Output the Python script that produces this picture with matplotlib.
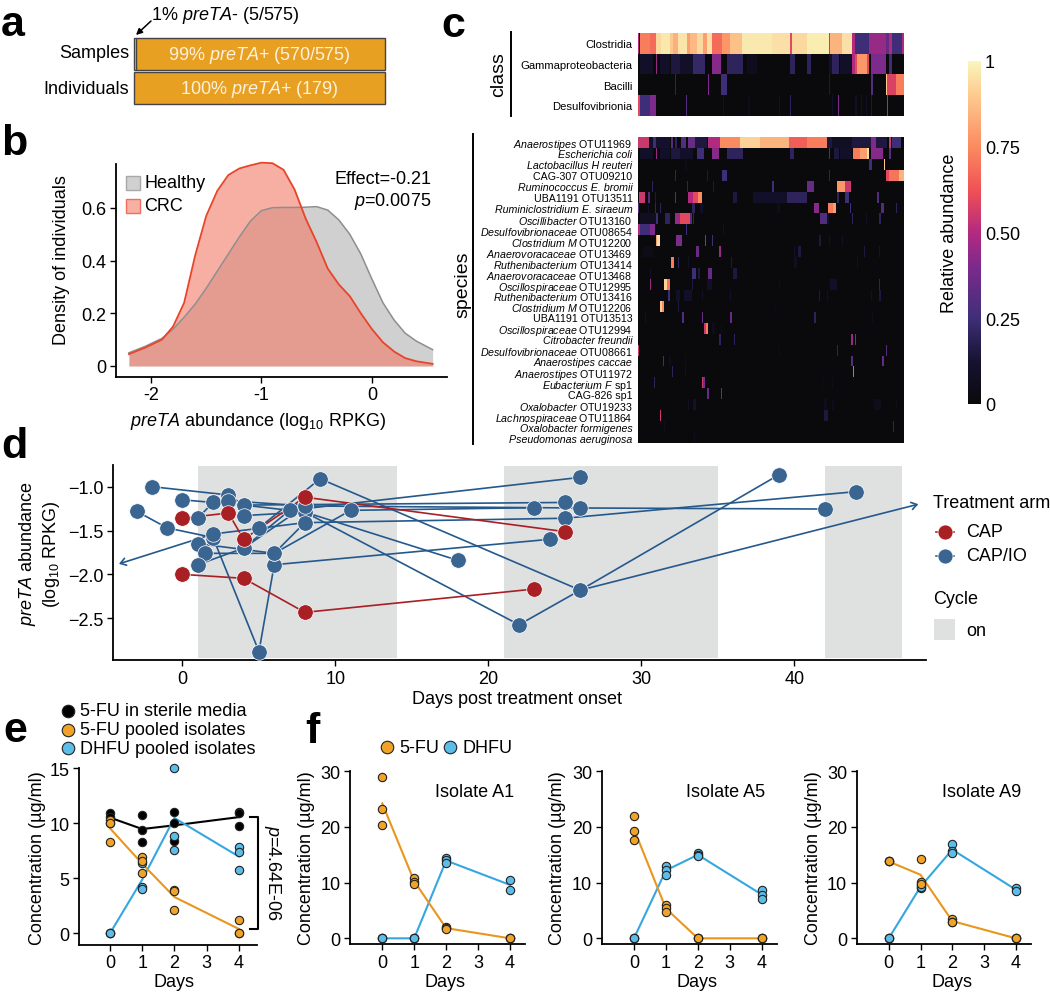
import numpy as np
import matplotlib
matplotlib.use("Agg")
import matplotlib.pyplot as plt
from matplotlib.colors import LinearSegmentedColormap
from matplotlib.lines import Line2D
from matplotlib.patches import Rectangle, FancyArrowPatch

plt.rcParams['font.family'] = ['Liberation Sans', 'DejaVu Sans']
plt.rcParams['mathtext.fontset'] = 'custom'
plt.rcParams['mathtext.rm'] = 'Liberation Sans'
plt.rcParams['mathtext.it'] = 'Liberation Sans:italic'
plt.rcParams['mathtext.bf'] = 'Liberation Sans:bold'
plt.rcParams['font.size'] = 13

# panel a
sample_neg, sample_pos = 5, 570
indiv_pos = 179

# panel b
kde_x = [-2.2, -2.05, -1.9, -1.8, -1.7, -1.6, -1.5, -1.4, -1.3, -1.2, -1.1, -1.0, -0.9, -0.8,
         -0.7, -0.6, -0.5, -0.4, -0.3, -0.2, -0.1, 0, 0.1, 0.2, 0.3, 0.4, 0.55]
healthy = [.05, .075, .105, .14, .185, .235, .295, .36, .425, .49, .55, .59, .601, .602,
           .602, .603, .605, .592, .555, .50, .425, .33, .24, .175, .125, .095, .062]
crc = [.045, .07, .10, .15, .24, .42, .57, .665, .725, .75, .762, .772, .77, .745,
       .67, .56, .47, .37, .31, .265, .20, .14, .09, .055, .03, .018, .008]

# panel c, (from, to, value) runs along the samples of each row
n_samples = 795
class_names = ['Clostridia', 'Gammaproteobacteria', 'Bacilli', 'Desulfovibrionia']
class_runs = [
    [(0, 4, .5), (5, 35, .72), (35, 55, .68), (55, 70, .93), (70, 95, .97), (95, 105, .9), (105, 120, .84),
     (120, 145, .96), (145, 155, .8), (155, 175, .86), (175, 195, .93), (195, 205, .8), (205, 220, .95),
     (220, 250, .68), (250, 275, .78), (275, 310, .88), (310, 400, .97), (400, 455, .95), (455, 460, .6),
     (460, 505, .93), (505, 570, .98), (570, 575, .55), (575, 610, .85), (610, 640, .95), (640, 650, .5),
     (650, 690, .25), (690, 740, .45), (740, 750, .35), (750, 760, .5), (760, 790, .25), (790, 795, .5)],
    [(5, 45, .1), (53, 57, .45), (65, 95, .1), (100, 125, .15), (125, 165, .1), (165, 200, .22), (220, 248, .42),
     (265, 315, .2), (325, 355, .06), (455, 470, .2), (505, 517, .2), (570, 580, .1), (580, 600, .2), (605, 640, .1),
     (640, 650, .5), (650, 655, .6), (655, 685, .78), (685, 690, .6), (695, 740, .4), (750, 760, .25)],
    [(110, 115, .2), (210, 213, .4), (247, 267, .25), (570, 575, .15), (695, 703, .3), (740, 745, .9),
     (745, 770, .58), (770, 795, .72)],
    [(0, 5, .6), (5, 35, .25), (35, 53, .4), (143, 146, .3), (255, 257, .1), (330, 335, .05), (420, 425, .1),
     (455, 458, .2), (580, 583, .1), (597, 601, .4), (650, 655, .1), (665, 669, .1), (680, 685, .1), (695, 699, .15),
     (743, 747, .5)],
]
species_names = [
    r'$\mathit{Anaerostipes}$ OTU11969', 'Escherichia coli',
    'Lactobacillus H reuteri', 'CAG-307 OTU09210',
    'Ruminococcus E. bromii', 'UBA1191 OTU13511',
    'Ruminiclostridium E. siraeum', r'$\mathit{Oscillibacter}$ OTU13160',
    r'$\mathit{Desulfovibrionaceae}$ OTU08654', r'$\mathit{Clostridium\ M}$ OTU12200',
    r'$\mathit{Anaerovoracaceae}$ OTU13469', r'$\mathit{Ruthenibacterium}$ OTU13414',
    r'$\mathit{Anaerovoracaceae}$ OTU13468', r'$\mathit{Oscillospiraceae}$ OTU12995',
    r'$\mathit{Ruthenibacterium}$ OTU13416', r'$\mathit{Clostridium\ M}$ OTU12206',
    'UBA1191 OTU13513', r'$\mathit{Oscillospiraceae}$ OTU12994',
    'Citrobacter freundii', r'$\mathit{Desulfovibrionaceae}$ OTU08661',
    'Anaerostipes caccae', r'$\mathit{Anaerostipes}$ OTU11972',
    r'$\mathit{Eubacterium\ F}$ sp1', 'CAG-826 sp1',
    r'$\mathit{Oxalobacter}$ OTU19233', r'$\mathit{Lachnospiraceae}$ OTU11864',
    'Oxalobacter formigenes', 'Pseudomonas aeruginosa',
]
plain_names = ['CAG-307 OTU09210', 'UBA1191 OTU13511', 'UBA1191 OTU13513', 'CAG-826 sp1']
species_runs = [
    [(0, 33, .55), (33, 45, .1), (45, 55, .25), (55, 95, .12), (100, 105, .3), (110, 117, .2), (130, 143, .3),
     (150, 170, .35), (170, 205, .15), (210, 245, .5), (245, 305, .75), (305, 365, .92), (365, 450, .85),
     (450, 505, .65), (505, 565, .72), (565, 580, .15), (580, 640, .08), (640, 695, .15), (695, 710, .4),
     (710, 745, .15), (750, 757, .55), (760, 785, .25)],
    [(5, 45, .1), (53, 57, .45), (65, 95, .1), (100, 125, .15), (125, 165, .1), (175, 198, .25), (220, 243, .42),
     (265, 313, .2), (455, 467, .2), (570, 573, .3), (585, 600, .15), (605, 640, .1), (643, 663, .72), (663, 685, .8),
     (685, 690, .95), (695, 733, .42), (750, 755, .3)],
    [(140, 145, .05), (690, 700, .25), (735, 739, .9)],
    [(110, 113, .2), (205, 208, .15), (250, 265, .25), (570, 573, .2), (740, 750, .6), (750, 780, .7), (780, 795, .85)],
    [(43, 46, .2), (145, 150, .2), (225, 228, .15), (400, 405, .25), (505, 525, .35), (595, 620, .78), (620, 637, .55)],
    [(2, 20, .55), (30, 37, .3), (50, 55, .15), (110, 113, .3), (150, 165, .5), (165, 180, .6), (180, 190, .75),
     (285, 295, .15), (345, 445, .1), (445, 505, .2), (595, 600, .2), (620, 630, .25), (715, 720, .3)],
    [(0, 3, .3), (30, 33, .1), (50, 53, .2), (65, 68, .2), (160, 170, .2), (185, 195, .1), (415, 425, .05),
     (527, 540, .42), (567, 583, .72), (583, 593, .8), (633, 637, .25), (725, 735, .3), (770, 773, .2)],
    [(5, 55, .07), (55, 61, .25), (80, 95, .2), (110, 127, .45), (127, 155, .6), (155, 160, .3), (165, 168, .2),
     (545, 565, .3), (565, 570, .1), (640, 643, .2), (680, 685, .1), (720, 727, .2)],
    [(0, 5, .5), (5, 35, .25), (35, 52, .4), (143, 146, .25), (255, 258, .1)],
    [(53, 57, .8), (57, 65, .95), (115, 132, .4), (200, 204, .45), (220, 225, .25), (540, 547, .15), (570, 573, .1),
     (610, 613, .1)],
    [(15, 45, .04), (173, 181, .35), (243, 247, .45), (465, 470, .12), (477, 487, .15), (675, 678, .15), (720, 723, .12)],
    [(98, 108, .72), (120, 123, .2), (150, 153, .1), (278, 282, .15), (465, 475, .07), (655, 659, .1)],
    [(35, 40, .08), (160, 173, .25), (180, 185, .15), (210, 220, .35), (283, 295, .15)],
    [(35, 39, .45), (79, 87, .92), (87, 97, .7), (160, 165, .15), (205, 221, .1), (420, 423, .05), (575, 595, .1),
     (720, 723, .2)],
    [(90, 97, .25), (115, 125, .1), (137, 160, .1), (190, 195, .08), (275, 278, .1), (540, 545, .15), (565, 569, .1),
     (695, 698, .08), (720, 727, .15)],
    [(67, 73, .9), (73, 79, .75), (120, 123, .15), (405, 408, .04)],
    [(20, 25, .08), (132, 136, .3), (190, 194, .35), (275, 280, .35), (527, 531, .2), (700, 703, .05)],
    [(197, 203, .55), (203, 208, .72), (220, 230, .05), (247, 251, .06)],
    [(243, 247, .2), (288, 291, .2), (637, 642, .45), (648, 651, .4)],
    [(0, 3, .55), (420, 423, .05), (595, 598, .2), (740, 745, .3)],
    [(75, 79, .25), (93, 100, .05), (140, 143, .05), (638, 643, .3), (730, 735, .35)],
    [(102, 105, .2), (140, 143, .1), (642, 647, .65)],
    [(48, 52, .2), (190, 195, .55), (195, 200, .4), (550, 555, .03), (580, 583, .05)],
    [(207, 211, .35), (247, 252, .35)],
    [(150, 153, .08), (163, 173, .12), (555, 565, .05), (580, 587, .06), (705, 725, .05), (770, 773, .05)],
    [(65, 70, .55), (557, 567, .15)],
    [(78, 81, .05), (761, 766, .2)],
    [(35, 38, .03), (167, 171, .05)],
]

# panel d, one list per patient: days and abundance
cycle_on = [1, 21, 42]
cycle_off = [14, 35, 47]
io_days = [
    [-2, 3, 4, 25], [0, 4, 8, 18], [-3, -1, 2, 5, 6, 24], [2, 8, 25, 44], [1, 2, 3, 8, 26, 42],
    [5, 9, 26], [4, 8, 22, 26, 39], [4, 7, 26], [1, 6, 8], [1.5, 6, 11, 23], [1, 4, 8],
]
io_abund = [
    [-1.0, -1.095, -1.21, -1.18], [-1.15, -1.21, -1.29, -1.84], [-1.28, -1.47, -1.58, -2.88, -1.89, -1.60],
    [-1.54, -1.41, -1.36, -1.057], [-1.36, -1.18, -1.16, -1.22, -1.243, -1.255],
    [-1.47, -.91, -2.18], [-1.33, -1.29, -2.574, -2.18, -.863], [-1.7, -1.27, -.894],
    [-1.65, -1.76, -1.41], [-1.76, -1.76, -1.27, -1.24], [-1.89, -1.7, -1.22],
]
cap_days = [[0, 3, 4, 8, 25], [0, 4, 8, 23]]
cap_abund = [[-1.36, -1.30, -1.60, -1.12, -1.513], [-2.0, -2.045, -2.433, -2.167]]

# panel e, replicates per day
days = [0, 1, 2, 4]
sterile = [[10.9, 10.6, 10.0], [10.7, 9.42, 8.27], [11.0, 10.0, 8.4], [11.0, 10.9, 9.73]]
pooled_fu = [[10.3, 10.0, 8.3], [6.9, 6.55, 5.5], [3.97, 3.8, 2.12], [1.2, 0, 0]]
pooled_dhfu = [[0, 0, 0], [4.18, 4.03, 6.4], [15, 8.8, 7.6], [7.8, 7.36, 5.75]]

# panel f
isolate_names = ['Isolate A1', 'Isolate A5', 'Isolate A9']
isolate_fu = [
    [[29, 23.3, 20.4], [10.9, 10.2, 9.7], [2.0, 1.8, 1.7], [0, 0, 0]],
    [[22, 19.2, 17.7], [6, 5.4, 4.7], [0, 0, 0], [0, 0, 0]],
    [[13.8, 13.8, 13.8], [14.25, 10.2, 9.8], [3.5, 2.9, 2.9], [0, 0, 0]],
]
isolate_dhfu = [
    [[0, 0, 0], [0, 0, 0], [14.4, 14, 13.5], [10.5, 8.7]],
    [[0, 0, 0], [13, 12.2, 11.4], [15.3, 15, 14.7], [8.7, 7.8, 7.1]],
    [[0, 0, 0], [9.6, 9.0, 9.2], [16.9, 15.6, 15.3], [9, 8.5]],
]

W, H = 1050, 995
BLUE, BLUE_L, RED = '#3b6591', '#25598c', '#a81f24'
ORANGE, LBLUE = '#f0a327', '#5cbde8'
ORANGE_L, LBLUE_L = '#e8961e', '#35a7e0'
CONC = 'Concentration (µg/ml)'

fig = plt.figure(figsize=(W / 100, H / 100), dpi=100)


def box(left, top, right, bottom):
    return fig.add_axes([left / W, 1 - bottom / H, (right - left) / W, (bottom - top) / H])


def put(x, y, s, **kw):
    kw.setdefault('va', 'center')
    return fig.text(x / W, 1 - y / H, s, **kw)


def dot(x, y, color, size=12.5):
    fig.add_artist(Line2D([x / W], [1 - y / H], marker='o', color=color, markersize=size * 0.72,
                          markeredgecolor='#222222', markeredgewidth=0.8, transform=fig.transFigure))


def style(ax):
    ax.spines['top'].set_visible(False)
    ax.spines['right'].set_visible(False)
    ax.spines['left'].set_linewidth(1.3)
    ax.spines['bottom'].set_linewidth(1.3)
    ax.tick_params(length=4, width=1, pad=3, labelsize=13)


def labels(ax, xlabel, xpos, ylabel, ypos):
    ax.set_xlabel(xlabel, va='center')
    ax.xaxis.set_label_coords(xpos[0] / W, 1 - xpos[1] / H, transform=fig.transFigure)
    ax.set_ylabel(ylabel, va='center')
    ax.yaxis.set_label_coords(ypos[0] / W, 1 - ypos[1] / H, transform=fig.transFigure)


for letter, x, y in [('a', 1, 36), ('b', 1, 155), ('c', 441, 37), ('d', 1, 458), ('e', 3, 742), ('f', 305, 743)]:
    put(x, y, letter, fontsize=31, fontweight='bold', va='baseline')

# a
ax = box(134, 38, 385.3, 106)
ax.barh(1, sample_neg, height=0.93, color='white', edgecolor='#444444', linewidth=1, clip_on=False)
ax.barh(1, sample_pos, left=sample_neg, height=0.93, color='#e8a023', edgecolor='#444444', linewidth=1, clip_on=False)
ax.barh(0, sample_neg + sample_pos, height=0.93, color='#e8a023', edgecolor='#444444', linewidth=1, clip_on=False)
ax.set_xlim(0, sample_neg + sample_pos)
ax.set_ylim(-0.5, 1.5)
ax.axis('off')
ax.text(0.5, 0.745, r'99% $\mathit{preTA}$+ (570/575)', transform=ax.transAxes, ha='center', va='center', color='#fdf1dc')
ax.text(0.5, 0.25, r'100% $\mathit{preTA}$+ (' + str(indiv_pos) + ')', transform=ax.transAxes, ha='center', va='center', color='#fdf1dc')
put(129, 54, 'Samples', ha='right')
put(129, 89, 'Individuals', ha='right')
put(151, 15, r'1% $\mathit{preTA}$- (5/575)')
fig.add_artist(FancyArrowPatch((151 / W, 1 - 22 / H), (136 / W, 1 - 36 / H), transform=fig.transFigure,
                               arrowstyle='-|>', mutation_scale=9, color='black', lw=1.1, shrinkA=0, shrinkB=0))

# b
ax = box(116, 165, 447, 377.5)
style(ax)
ax.fill_between(kde_x, healthy, color='#bdbdbd', alpha=0.7, linewidth=0, clip_on=False)
ax.plot(kde_x, healthy, color='#8e8e8e', lw=1.1, clip_on=False)
ax.fill_between(kde_x, crc, color='#f37a67', alpha=0.6, linewidth=0, clip_on=False)
ax.plot(kde_x, crc, color='#e8442a', lw=1.3, clip_on=False)
ax.set_xlim(-2.317, 0.68)
ax.set_ylim(-0.04, 0.767)
ax.set_xticks([-2, -1, 0], labels=['-2', '-1', '0'])
ax.set_yticks([0, 0.2, 0.4, 0.6], labels=['0', '0.2', '0.4', '0.6'])
labels(ax, r'$\mathit{preTA}$ abundance (log$_{10}$ RPKG)', (258, 421), 'Density of individuals', (62, 260))
fig.add_artist(Rectangle((126 / W, 1 - 191 / H), 14 / W, 14 / H, transform=fig.transFigure, facecolor='#d0d0d0', edgecolor='#a8a8a8', lw=1))
fig.add_artist(Rectangle((126 / W, 1 - 214 / H), 14 / W, 14 / H, transform=fig.transFigure, facecolor='#f8afa4', edgecolor='#ef6f5e', lw=1))
put(144, 183, 'Healthy')
put(144, 207, 'CRC')
put(431, 180, 'Effect=-0.21', ha='right')
put(431, 202, r'$\mathit{p}$=0.0075', ha='right')

# c
heat_cmap = LinearSegmentedColormap.from_list('heat', [
    (0, '#0a0a0c'), (.12, '#15122f'), (.25, '#3e2f78'), (.4, '#7c2a8c'), (.5, '#b22a80'),
    (.62, '#ef4f55'), (.75, '#fb8a60'), (.9, '#fdc98f'), (1, '#f9f6bb')])


def heat_matrix(runs):
    m = np.zeros((len(runs), n_samples))
    for i, row in enumerate(runs):
        for a, b, v in row:
            m[i, a:b] = v
    return m


ax = box(638, 34, 903.7, 116.7)
im = ax.imshow(heat_matrix(class_runs), aspect='auto', cmap=heat_cmap, vmin=0, vmax=1, interpolation='nearest')
ax.set_xticks([])
ax.set_yticks(range(len(class_names)), labels=class_names, fontsize=8.1)
ax.tick_params(length=0, pad=4)
for s in ax.spines.values():
    s.set_visible(False)

ax = box(638, 138, 903.7, 444)
ax.imshow(heat_matrix(species_runs), aspect='auto', cmap=heat_cmap, vmin=0, vmax=1, interpolation='nearest')
ax.set_xticks([])
ax.set_yticks(range(len(species_names)), labels=species_names, fontsize=7.7)
for t, name in zip(ax.get_yticklabels(), species_names):
    t.set_va('center_baseline')
    if '$' not in name and name not in plain_names:
        t.set_fontstyle('italic')
ax.tick_params(length=0, pad=4)
for s in ax.spines.values():
    s.set_visible(False)

fig.add_artist(Line2D([511 / W] * 2, [1 - 33 / H, 1 - 117 / H], color='black', lw=1.4))
fig.add_artist(Line2D([472.7 / W] * 2, [1 - 135 / H, 1 - 445 / H], color='black', lw=1.4))
put(499, 75, 'class', rotation=90, ha='center', fontsize=14)
put(463, 285, 'species', rotation=90, ha='center', fontsize=14)

cax = box(967.7, 62, 980.7, 405)
cb = fig.colorbar(im, cax=cax, ticks=[0, .25, .5, .75, 1])
cb.ax.set_yticklabels(['0', '0.25', '0.50', '0.75', '1'])
cb.ax.tick_params(length=0, pad=3, labelsize=13)
cb.outline.set_visible(False)
cb.ax.yaxis.set_label_position('left')
cb.set_label('Relative abundance', fontsize=13, va='center')
cb.ax.yaxis.set_label_coords(949 / W, 1 - 233 / H, transform=fig.transFigure)

# d
ax = box(113.3, 466, 926, 661)
style(ax)
for a, b in zip(cycle_on, cycle_off):
    ax.axvspan(a, b, ymin=0.01, ymax=0.995, color='#dfe0e0', lw=0, zorder=0)
for d, v in zip(io_days, io_abund):
    ax.plot(d, v, color=BLUE_L, lw=1.2, zorder=2)
for d, v in zip(cap_days, cap_abund):
    ax.plot(d, v, color=RED, lw=1.2, zorder=2.5)
for d, v in zip(io_days, io_abund):
    ax.scatter(d, v, s=125, color=BLUE, edgecolor='white', linewidth=0.5, zorder=3)
for d, v in zip(cap_days, cap_abund):
    ax.scatter(d, v, s=125, color=RED, edgecolor='white', linewidth=0.5, zorder=4)
arrow = dict(arrowstyle='->,head_length=0.3,head_width=0.2', color=BLUE_L, lw=1.2, shrinkA=0, shrinkB=0)
ax.annotate('', xy=(-4.15, -1.88), xytext=(2, -1.54), arrowprops=arrow, annotation_clip=False, zorder=2)
ax.annotate('', xy=(48.1, -1.2), xytext=(26, -2.18), arrowprops=arrow, annotation_clip=False, zorder=2)
ax.set_xlim(-4.52, 48.6)
ax.set_ylim(-2.976, -0.753)
ax.set_xticks([0, 10, 20, 30, 40])
ax.set_yticks([-2.5, -2, -1.5, -1], labels=['\u22122.5', '\u22122.0', '\u22121.5', '\u22121.0'])
labels(ax, 'Days post treatment onset', (517, 700), '$\\mathit{preTA}$ abundance\n(log$_{10}$ RPKG)', (40, 554))

put(933, 503, 'Treatment arm')
for y, c, name in [(532.7, RED, 'CAP'), (556.7, BLUE, 'CAP/IO')]:
    fig.add_artist(Line2D([936 / W, 954 / W], [1 - y / H] * 2, color=c, lw=1.2))
    fig.add_artist(Line2D([945 / W], [1 - y / H], marker='o', markersize=10.8, color=c, markeredgecolor='white',
                          markeredgewidth=0.5, transform=fig.transFigure))
    put(966, y, name)
put(933, 600, 'Cycle')
fig.add_artist(Rectangle((934 / W, 1 - 641 / H), 21 / W, 21 / H, transform=fig.transFigure, facecolor='#dfe0e0', lw=0))
put(966, 631, 'on')


def conc_panel(ax, series):
    style(ax)
    for reps, line, fill in series:
        ax.plot(days, [np.mean(r) for r in reps], color=line, lw=1.5, zorder=2)
    for reps, line, fill in series:
        for d, r in zip(days, reps):
            ax.scatter([d] * len(r), r, s=36, color=fill, edgecolor='#222222', linewidth=0.8, zorder=3, clip_on=False)
    ax.set_xticks([0, 1, 2, 3, 4])


# e
ax = box(79.3, 769, 256.7, 945.7)
conc_panel(ax, [(sterile, 'black', 'black'), (pooled_dhfu, LBLUE_L, LBLUE), (pooled_fu, ORANGE_L, ORANGE)])
ax.set_xlim(-0.953, 4.556)
ax.set_ylim(-1.03, 15)
ax.set_yticks([0, 5, 10, 15])
labels(ax, 'Days', (174, 983), CONC, (38, 858))
ax.plot([4.35, 4.6, 4.6, 4.35], [10.6, 10.6, 0.4, 0.4], color='black', lw=1.5, clip_on=False)
put(272, 873, r'$\mathit{p}$=4.64E-06', rotation=-90, ha='center')
for y, c, name in [(711.7, 'black', '5-FU in sterile media'), (730.7, ORANGE, '5-FU pooled isolates'),
                   (749.3, LBLUE, 'DHFU pooled isolates')]:
    dot(68, y, c)
    put(80, y, name)

# f
f_boxes = [(350, 525), (601.7, 776.7), (856.7, 1030.7)]
f_text = [514, 765, 1021.7]
f_ylabel = [306.7, 557.7, 814]
f_days = [445, 697, 952]
for i, (l, r) in enumerate(f_boxes):
    ax = box(l, 772.3, r, 945)
    conc_panel(ax, [(isolate_dhfu[i], LBLUE_L, LBLUE), (isolate_fu[i], ORANGE_L, ORANGE)])
    ax.set_xlim(-1.01, 4.47)
    ax.set_ylim(-1.02, 30)
    ax.set_yticks([0, 10, 20, 30])
    labels(ax, 'Days', (f_days[i], 983), CONC, (f_ylabel[i], 858))
    put(f_text[i], 792.7, isolate_names[i], ha='right')
dot(387.3, 748.3, ORANGE)
put(399, 748.3, '5-FU')
dot(450, 748.3, LBLUE)
put(462, 748.3, 'DHFU')

fig.savefig('out.png', dpi=100)
